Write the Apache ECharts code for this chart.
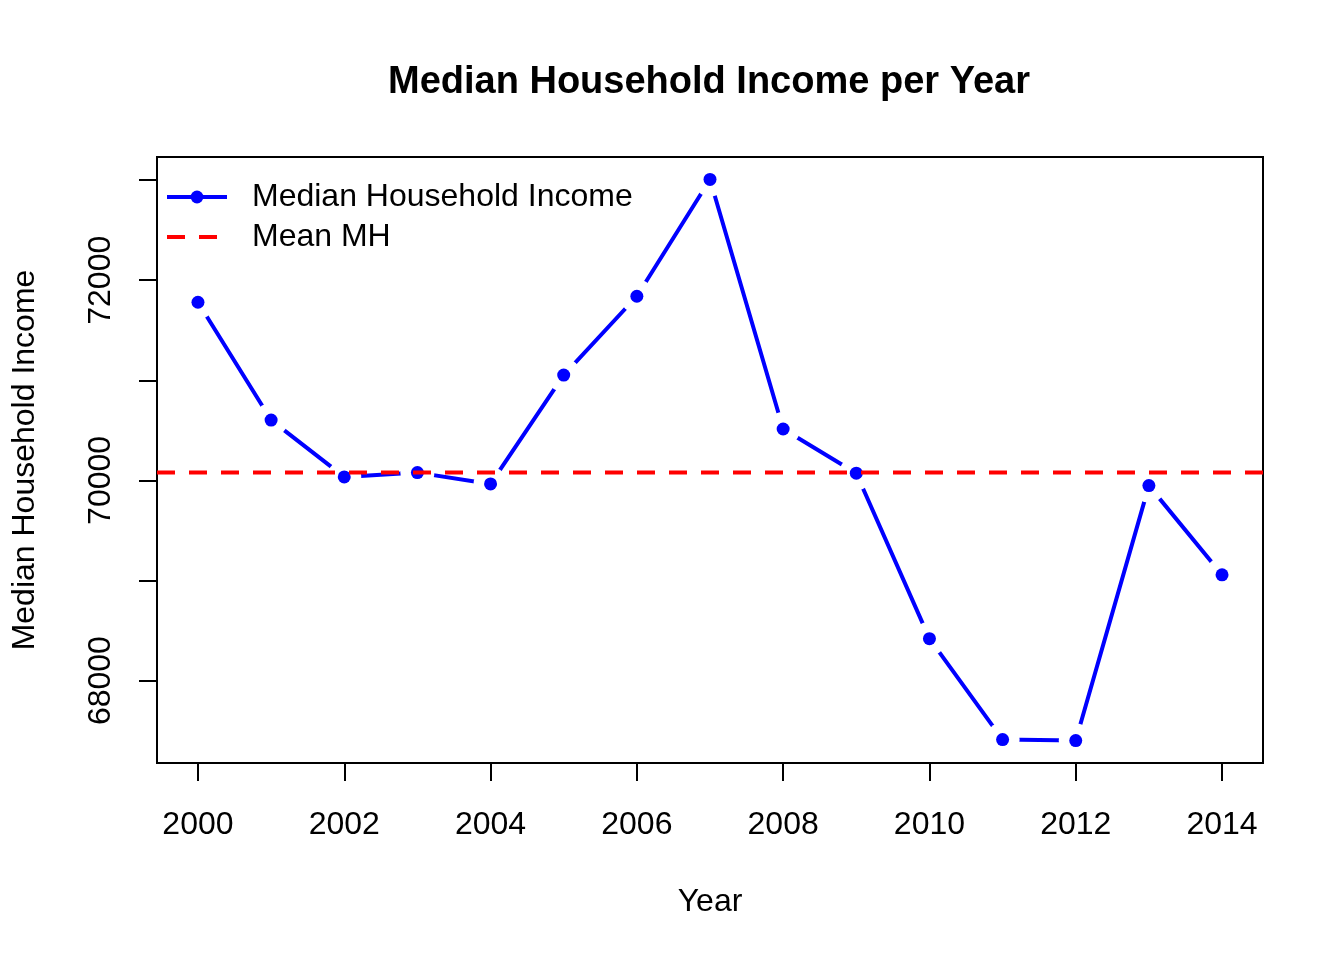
<!DOCTYPE html>
<html>
<head>
<meta charset="utf-8">
<script src="https://cdn.jsdelivr.net/npm/echarts@6/dist/echarts.min.js"></script>
<style>html,body{margin:0;padding:0;background:#fff}#c{width:1344px;height:960px}</style>
</head>
<body>
<div id="c"></div>
<script>
const years = [2000,2001,2002,2003,2004,2005,2006,2007,2008,2009,2010,2011,2012,2013,2014];
const income = [71780,70603,70035,70078,69965,71052,71840,73007,70514,70072,68419,67411,67401,69948,69057];
const xTicks = [2000,2002,2004,2006,2008,2010,2012,2014];
const yTicks = [68000,69000,70000,71000,72000,73000];
const yLabels = [68000,70000,72000];

const meanMH = income.reduce((a,b)=>a+b,0)/income.length;
const pts = years.map((y,i)=>[y,income[i]]);
// R-style 4% axis extension
const xr = years[years.length-1]-years[0];
const xMin = years[0]-0.04*xr, xMax = years[years.length-1]+0.04*xr;
const yLo = Math.min(...income), yHi = Math.max(...income), yr = yHi-yLo;
const yMin = yLo-0.04*yr, yMax = yHi+0.04*yr;

const FONT = "'Liberation Sans', Arial, sans-serif";
const plain = v => String(Math.round(v));
const chart = echarts.init(document.getElementById('c'));
chart.setOption({
  animation:false,
  backgroundColor:'#fff',
  title:{text:'Median Household Income per Year',left:388,top:64,padding:0,
    textStyle:{fontFamily:FONT,fontSize:38,fontWeight:'bold',color:'#000'}},
  legend:{orient:'vertical',left:165,top:181,padding:0,itemWidth:60,itemHeight:16,itemGap:8,
    textStyle:{fontFamily:FONT,fontSize:32,color:'#000',padding:[0,0,0,20]},
    data:[{name:'Median Household Income',lineStyle:{width:4,color:'#0000ff'},itemStyle:{color:'#0000ff',opacity:1}},
          {name:'Mean MH',itemStyle:{opacity:0},lineStyle:{width:4,color:'#ff0000',type:[18,14],cap:'butt'}}]},
  grid:{left:157,top:157,right:81,bottom:197,show:true,borderColor:'#000',borderWidth:2,containLabel:false,outerBoundsMode:'none'},
  xAxis:{type:'value',min:xMin,max:xMax,name:'Year',nameLocation:'middle',nameGap:123,
    nameTextStyle:{fontFamily:FONT,fontSize:32,color:'#000'},
    axisLine:{show:false},splitLine:{show:false},
    axisTick:{show:true,length:18,lineStyle:{color:'#000',width:2},customValues:xTicks},
    axisLabel:{fontFamily:FONT,fontSize:32,color:'#000',margin:46,customValues:xTicks,formatter:plain}},
  yAxis:{type:'value',min:yMin,max:yMax,name:'Median Household Income',nameLocation:'middle',nameRotate:90,nameGap:116,
    nameTextStyle:{fontFamily:FONT,fontSize:32,color:'#000'},
    axisLine:{show:false},splitLine:{show:false},
    axisTick:{show:true,length:18,lineStyle:{color:'#000',width:2},customValues:yTicks},
    axisLabel:{fontFamily:FONT,fontSize:32,color:'#000',margin:40,rotate:90,customValues:yLabels,formatter:plain}},
  series:[
    {name:'Median Household Income',type:'line',z:2,data:pts,symbol:'circle',symbolSize:13,
      itemStyle:{color:'#0000ff'},lineStyle:{color:'#0000ff',width:4}},
    {name:'mask',type:'scatter',z:3,data:pts,symbol:'circle',symbolSize:34,silent:true,
      itemStyle:{color:'#ffffff',opacity:1}},
    {name:'dots',type:'scatter',z:4,data:pts,symbol:'circle',symbolSize:13,silent:true,
      itemStyle:{color:'#0000ff',opacity:1}},
    {name:'Mean MH',type:'line',z:5,data:[[xMin,meanMH],[xMax,meanMH]],symbol:'none',
      itemStyle:{color:'#ff0000'},lineStyle:{color:'#ff0000',width:4,type:[18,14],cap:'butt'}}
  ]
});
</script>
</body>
</html>
